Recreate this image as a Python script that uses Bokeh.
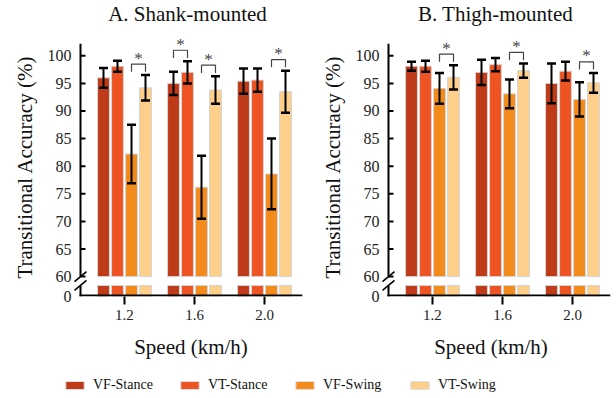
import math
from bokeh.plotting import figure
from bokeh.models import (ColumnDataSource, Whisker, TeeHead, FixedTicker,
                          NumeralTickFormatter, Legend, LegendItem, Range1d)
from bokeh.core.properties import value
from bokeh.layouts import column, row
from bokeh.embed import file_html
from bokeh.resources import INLINE

# ---------------- data ----------------
SPEEDS = [1.2, 1.6, 2.0]
SERIES = ["VF-Stance", "VT-Stance", "VF-Swing", "VT-Swing"]
COLORS = ["#BF3A19", "#EE5423", "#F28B1B", "#FECF8B"]

SHANK_VF_STANCE = [96.0, 95.0, 95.4]
SHANK_VT_STANCE = [98.1, 97.0, 95.6]
SHANK_VF_SWING = [82.2, 76.2, 78.6]
SHANK_VT_SWING = [94.2, 93.8, 93.5]
SHANK_VF_STANCE_ERR = [1.8, 2.1, 2.3]
SHANK_VT_STANCE_ERR = [1.0, 2.0, 2.1]
SHANK_VF_SWING_ERR = [5.3, 5.7, 6.4]
SHANK_VT_SWING_ERR = [2.3, 2.5, 3.8]

THIGH_VF_STANCE = [98.1, 97.0, 95.0]
THIGH_VT_STANCE = [98.1, 98.4, 97.2]
THIGH_VF_SWING = [94.1, 93.1, 92.1]
THIGH_VT_SWING = [96.1, 97.3, 95.1]
THIGH_VF_STANCE_ERR = [0.8, 2.3, 3.6]
THIGH_VT_STANCE_ERR = [1.0, 1.2, 1.7]
THIGH_VF_SWING_ERR = [2.8, 2.6, 3.1]
THIGH_VT_SWING_ERR = [2.2, 1.3, 1.8]

# significance pairs: (speed index, series i, series j)
SHANK_SIG = [(0, 2, 3), (1, 0, 1), (1, 2, 3), (2, 2, 3)]
THIGH_SIG = [(0, 2, 3), (1, 2, 3), (2, 2, 3)]

Y_TICKS = [60, 65, 70, 75, 80, 85, 90, 95, 100]
TITLES = ["A. Shank-mounted", "B. Thigh-mounted"]
X_LABEL = "Speed (km/h)"
Y_LABEL = "Transitional Accuracy (%)"

# ---------------- layout / style constants ----------------
FONT = "Liberation Serif, Times New Roman, serif"
Y_ZERO = 56.4          # display position of the value 0 below the axis break
BREAK_LOW = 58.4       # top of the lower bar stub
BREAK_HIGH = 60.0      # where the upper bar parts start
AX_TOP = 102.17        # top end of the y axis line
Y_END = 110.01         # frame top (room for title and stars)
TITLE_Y = 105.85
X_START, X_END = 0.90286, 2.21714
AX_X = 0.94857         # x position of the y axis line
FRAME_W, FRAME_H = 230, 296
PX_X = FRAME_W / (X_END - X_START)
PX_Y = FRAME_H / (Y_END - Y_ZERO)
OFFSETS = [-0.12, -0.04, 0.04, 0.12]
BAR_W = 0.068
BAR_LINE = "#d4d4d4"
BOTTOM_BORDER = 40
PANEL_H = FRAME_H + BOTTOM_BORDER
YLAB_W = 44
TXT_SHIFT21 = -9       # baseline correction for 21px text glyphs
TXT_SHIFT17 = -7


def panel(title, means, errs, sig, right_border):
    p = figure(width=28 + FRAME_W + right_border, height=PANEL_H, output_backend="svg",
               toolbar_location=None,
               x_range=Range1d(X_START, X_END), y_range=Range1d(Y_ZERO, Y_END),
               min_border_left=28, min_border_right=right_border, min_border_top=0,
               min_border_bottom=BOTTOM_BORDER, frame_width=FRAME_W, frame_height=FRAME_H)
    p.xgrid.visible = False
    p.ygrid.visible = False
    p.outline_line_color = None

    for k, (m, e, c) in enumerate(zip(means, errs, COLORS)):
        xs = [s + OFFSETS[k] for s in SPEEDS]
        p.vbar(x=xs, top=m, bottom=BREAK_HIGH, width=BAR_W, fill_color=c,
               line_color=BAR_LINE, line_width=1)
        p.vbar(x=xs, top=BREAK_LOW, bottom=Y_ZERO, width=BAR_W, fill_color=c,
               line_color=BAR_LINE, line_width=1)
        src = ColumnDataSource(dict(x=xs, upper=[a + b for a, b in zip(m, e)],
                                    lower=[a - b for a, b in zip(m, e)]))
        p.add_layout(Whisker(base="x", upper="upper", lower="lower", source=src,
                             level="annotation", line_color="black", line_width=2,
                             upper_head=TeeHead(size=9, line_width=2.5, line_color="black"),
                             lower_head=TeeHead(size=9, line_width=2.5, line_color="black")))

    # significance brackets
    bxs, bys, sx, sy = [], [], [], []
    for g, i, j in sig:
        xi = SPEEDS[g] + OFFSETS[i]
        xj = SPEEDS[g] + OFFSETS[j]
        top = max(means[i][g] + errs[i][g], means[j][g] + errs[j][g])
        yt, yl = top + 2.0, top + 0.6
        bxs.append([xi, xi, xj, xj])
        bys.append([yl, yt, yt, yl])
        sx.append((xi + xj) / 2)
        sy.append(yt)
    p.multi_line(bxs, bys, line_color="#444444", line_width=1.2)
    p.text(x=sx, y=sy, text=["*"] * len(sx), text_align="center", text_baseline="alphabetic",
           y_offset=1 + TXT_SHIFT17, text_font=value(FONT), text_font_size="17px",
           text_color="#444444")

    # title
    p.text(x=[(X_START + X_END) / 2], y=[TITLE_Y], text=[title], text_align="center",
           text_baseline="alphabetic", y_offset=TXT_SHIFT21, text_font=value(FONT),
           text_font_size="21px", text_color="#111111")

    # hand-drawn axis lines with break marks, inward y ticks
    dx6 = 6 / PX_X
    dy5 = 5 / PX_Y
    p.segment(x0=[AX_X, AX_X], y0=[Y_ZERO, BREAK_HIGH], x1=[AX_X, AX_X], y1=[BREAK_LOW, AX_TOP],
              line_color="black", line_width=2)
    p.segment(x0=[AX_X - dx6] * 2, y0=[BREAK_LOW - dy5, BREAK_HIGH - dy5],
              x1=[AX_X + dx6] * 2, y1=[BREAK_LOW + dy5, BREAK_HIGH + dy5],
              line_color="black", line_width=1.6)
    p.segment(x0=[AX_X] * len(Y_TICKS), y0=Y_TICKS, x1=[AX_X + 5 / PX_X] * len(Y_TICKS),
              y1=Y_TICKS, line_color="black", line_width=2)
    y_base = Y_ZERO + 1 / PX_Y
    p.segment(x0=[AX_X - 1 / PX_X], y0=[y_base], x1=[X_END], y1=[y_base],
              line_color="black", line_width=2)

    # axes (tick labels only; lines drawn above)
    xa = p.xaxis[0]
    xa.ticker = FixedTicker(ticks=SPEEDS)
    xa.formatter = NumeralTickFormatter(format="0.0")
    xa.axis_line_color = None
    xa.major_tick_out = 8
    xa.major_tick_in = 0
    xa.major_tick_line_width = 2
    xa.major_tick_line_color = "black"
    xa.minor_tick_line_color = None
    xa.major_label_standoff = 5
    xa.major_label_text_font_size = "15px"

    ya = p.yaxis[0]
    ya.ticker = FixedTicker(ticks=[Y_ZERO] + Y_TICKS)
    ya.formatter = NumeralTickFormatter(format="0")
    ya.major_label_overrides = {Y_ZERO: "0"}
    ya.axis_line_color = None
    ya.major_tick_line_color = None
    ya.major_tick_out = 0
    ya.major_tick_in = 0
    ya.minor_tick_line_color = None
    ya.major_label_standoff = 1
    ya.major_label_text_font_size = "16px"

    for ax in (xa, ya):
        ax.major_label_text_font = FONT
        ax.major_label_text_color = "#222222"
    return p


def ylabel_strip():
    f = figure(width=YLAB_W, height=PANEL_H, output_backend="svg", toolbar_location=None,
               x_axis_location=None, y_axis_location=None, min_border=0,
               x_range=Range1d(0, YLAB_W), y_range=Range1d(0, PANEL_H))
    f.xgrid.visible = False
    f.ygrid.visible = False
    f.outline_line_color = None
    f.text(x=[24], y=[PANEL_H - 189], text=[Y_LABEL], angle=math.pi / 2, text_align="center",
           text_baseline="middle", text_font=value(FONT), text_font_size="21px",
           text_color="#111111")
    return f


p1 = panel(TITLES[0],
           [SHANK_VF_STANCE, SHANK_VT_STANCE, SHANK_VF_SWING, SHANK_VT_SWING],
           [SHANK_VF_STANCE_ERR, SHANK_VT_STANCE_ERR, SHANK_VF_SWING_ERR, SHANK_VT_SWING_ERR],
           SHANK_SIG, 6)
p2 = panel(TITLES[1],
           [THIGH_VF_STANCE, THIGH_VT_STANCE, THIGH_VF_SWING, THIGH_VT_SWING],
           [THIGH_VF_STANCE_ERR, THIGH_VT_STANCE_ERR, THIGH_VF_SWING_ERR, THIGH_VT_SWING_ERR],
           THIGH_SIG, 4)

# bottom strip: x-axis labels and legend
BOT_W, BOT_H = 614, 60
pl = figure(width=BOT_W, height=BOT_H, output_backend="svg", toolbar_location=None,
            x_axis_location=None, y_axis_location=None, min_border=0,
            x_range=Range1d(0, BOT_W), y_range=Range1d(0, BOT_H))
pl.xgrid.visible = False
pl.ygrid.visible = False
pl.outline_line_color = None
pl.text(x=[190.5, 490.5], y=[41, 41], text=[X_LABEL, X_LABEL], text_align="center",
        text_baseline="alphabetic", y_offset=TXT_SHIFT21, text_font=value(FONT),
        text_font_size="21px", text_color="#111111")
items = []
for name, c in zip(SERIES, COLORS):
    r = pl.vbar(x=[-50], top=[-50], bottom=[-60], width=1, fill_color=c,
                line_color="#e0e0e0", line_width=1)
    items.append(LegendItem(label=name, renderers=[r]))
leg = Legend(items=items, orientation="horizontal", location=(63, 3),
             glyph_width=23, glyph_height=10, label_standoff=7, spacing=25,
             padding=0, margin=0, border_line_color=None, background_fill_alpha=0,
             label_text_font=FONT, label_text_font_size="14px", label_width=60,
             label_text_color="#111111")
pl.add_layout(leg)

layout = column(row(ylabel_strip(), p1, ylabel_strip(), p2), pl)
open("out.html", "w").write(file_html(layout, INLINE))
